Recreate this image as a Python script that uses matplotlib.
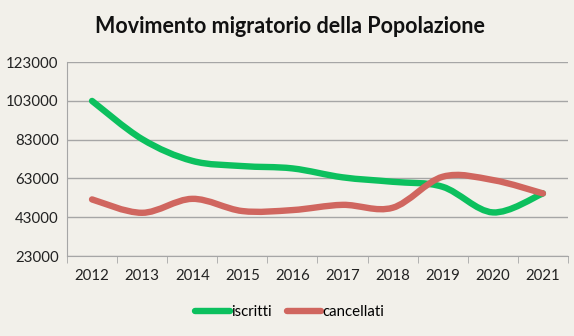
import matplotlib
matplotlib.use("Agg")
import matplotlib.pyplot as plt
from matplotlib.path import Path
from matplotlib.patches import PathPatch
from matplotlib.lines import Line2D
import numpy as np

plt.rcParams['font.family'] = ['Lato', 'DejaVu Sans']

# data
anni = ['2012', '2013', '2014', '2015', '2016', '2017', '2018', '2019', '2020', '2021']
iscritti = [103000, 83300, 72100, 69400, 68200, 63600, 61300, 58700, 45500, 55300]
cancellati = [52200, 45300, 52500, 46200, 46700, 49400, 47900, 63900, 62200, 55300]

verde = '#0CC05E'
rosso = '#D0665F'
sfondo = '#F2F0EA'


def smooth_path(xs, ys):
    # excel-like smoothed line: bezier segments with catmull-rom control points
    xs = np.asarray(xs, float)
    ys = np.asarray(ys, float)
    n = len(xs)
    verts = [(xs[0], ys[0])]
    codes = [Path.MOVETO]
    for i in range(n - 1):
        p0 = (xs[max(i - 1, 0)], ys[max(i - 1, 0)])
        p1 = (xs[i], ys[i])
        p2 = (xs[i + 1], ys[i + 1])
        p3 = (xs[min(i + 2, n - 1)], ys[min(i + 2, n - 1)])
        c1 = (p1[0] + (p2[0] - p0[0]) / 6, p1[1] + (p2[1] - p0[1]) / 6)
        c2 = (p2[0] - (p3[0] - p1[0]) / 6, p2[1] - (p3[1] - p1[1]) / 6)
        verts += [c1, c2, p2]
        codes += [Path.CURVE4] * 3
    return Path(verts, codes)


fig = plt.figure(figsize=(5.74, 3.36), dpi=100, facecolor=sfondo)
ax = fig.add_axes([0.1167, 0.238, 0.8728, 0.577])
ax.set_facecolor(sfondo)

x = np.arange(len(anni))
for serie, col in [(iscritti, verde), (cancellati, rosso)]:
    ax.add_patch(PathPatch(smooth_path(x, serie), fill=False, edgecolor=col,
                           lw=4.6, capstyle='round', joinstyle='round', zorder=3))

ax.set_xlim(-0.5, len(anni) - 0.5)
ax.set_ylim(23000, 123000)
ax.set_yticks(np.arange(23000, 123001, 20000))
ax.yaxis.grid(True, color='#A6A6A6', lw=1)
ax.set_axisbelow(True)

ax.set_xticks(x)
ax.set_xticklabels(anni)
ax.set_xticks(np.arange(-0.5, len(anni), 1), minor=True)
ax.tick_params(axis='x', which='major', length=0, pad=9, labelsize=10.8, colors='#222222')
ax.tick_params(axis='x', which='minor', length=5, color='#A6A6A6')
ax.tick_params(axis='y', length=0, pad=6, labelsize=10.8, colors='#222222')

for s in ['top', 'right']:
    ax.spines[s].set_visible(False)
for s in ['left', 'bottom']:
    ax.spines[s].set_color('#A6A6A6')

fig.text(0.505, 0.92, 'Movimento migratorio della Popolazione', ha='center', va='center',
         fontsize=15.5, fontweight='bold', color='#111111')

handles = [Line2D([], [], color=verde, lw=4.6, solid_capstyle='round'),
           Line2D([], [], color=rosso, lw=4.6, solid_capstyle='round')]
fig.legend(handles, ['iscritti', 'cancellati'], loc='center', bbox_to_anchor=(0.505, 0.07),
           ncol=2, frameon=False, fontsize=10.8, handlelength=2.3, handletextpad=0.1,
           columnspacing=1.0)

fig.savefig('out.png', dpi=100, facecolor=sfondo)
